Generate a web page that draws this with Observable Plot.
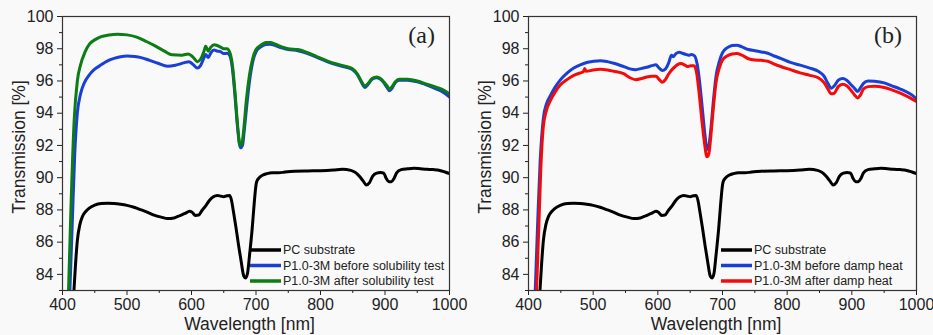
<!DOCTYPE html>
<html>
<head>
<meta charset="utf-8">
<script src="https://cdn.jsdelivr.net/npm/d3@7"></script>
<script src="https://cdn.jsdelivr.net/npm/@observablehq/plot@0.6"></script>
<style>
  html, body { margin: 0; padding: 0; background: #f9f9f9; }
  #wrap { display: flex; width: 933px; height: 335px; }
  svg { display: block; background: transparent; }
</style>
</head>
<body>
<div id="wrap"></div>
<script>
// ---------------- DATA ----------------
const xTicks = [400, 500, 600, 700, 800, 900, 1000];
const yTicks = [84, 86, 88, 90, 92, 94, 96, 98, 100];

// PC substrate (same in both panels): [wavelength nm, transmission %]
const pcSubstrate = [[417,82.5],[420,84.5],[423,86.1],[427,87.1],[431,87.6],[436,87.9],[441,88.1],[450,88.3],[460,88.4],[470,88.42],[480,88.4],[490,88.35],[500,88.28],[512,88.15],[522,88.0],[532,87.85],[542,87.68],[553,87.55],[563,87.46],[573,87.5],[582,87.65],[590,87.78],[597,87.92],[601,87.85],[606,87.66],[611,87.68],[616,87.95],[622,88.25],[628,88.6],[634,88.82],[640,88.9],[646,88.85],[650,88.82],[655,88.88],[659,88.9],[662,88.6],[665,87.9],[669,86.9],[673,85.8],[677,84.8],[681,83.9],[684,83.78],[687,84.1],[690,85.2],[694,86.8],[697,88.3],[699,89.2],[700,89.55],[701,89.75],[705,90.0],[710,90.15],[717,90.25],[725,90.3],[735,90.3],[745,90.35],[760,90.4],[780,90.42],[800,90.43],[820,90.47],[834,90.52],[847,90.45],[855,90.3],[860,90.1],[866,89.8],[871,89.55],[876,89.7],[881,90.1],[887,90.28],[893,90.32],[898,90.28],[902,89.95],[906,89.75],[910,89.75],[914,89.95],[918,90.3],[925,90.5],[935,90.55],[945,90.58],[955,90.55],[965,90.52],[975,90.5],[985,90.45],[993,90.35],[1000,90.25]];

// Panel (a)
const beforeSolubility = [[411,82.5],[415,87],[419,91.5],[423,94.0],[428,95.2],[434,95.9],[441,96.35],[449,96.7],[460,97.0],[470,97.25],[480,97.4],[490,97.5],[500,97.55],[512,97.52],[522,97.45],[535,97.28],[548,97.1],[563,96.92],[575,96.98],[588,97.12],[596,97.2],[603,97.0],[609,96.8],[614,96.95],[619,97.4],[622,97.65],[626,97.45],[630,97.75],[635,97.92],[640,97.85],[645,97.82],[650,97.7],[655,97.72],[659,97.6],[663,96.9],[667,95.3],[671,93.3],[674,92.2],[676,91.85],[679,92.0],[682,93.0],[686,94.6],[690,96.0],[695,97.2],[700,97.8],[707,98.1],[715,98.27],[722,98.28],[730,98.2],[740,98.05],[750,97.95],[765,97.88],[780,97.7],[795,97.45],[810,97.2],[825,97.0],[840,96.85],[850,96.7],[857,96.4],[863,95.95],[869,95.6],[874,95.8],[880,96.1],[887,96.2],[893,96.1],[898,95.9],[903,95.6],[907,95.4],[911,95.55],[916,95.9],[922,96.05],[935,96.05],[950,95.95],[965,95.75],[980,95.5],[990,95.3],[1000,95.0]];
const afterSolubility = [[409,82.5],[413,88],[418,93.5],[423,96.0],[428,97.0],[435,97.8],[442,98.3],[450,98.55],[460,98.75],[472,98.85],[485,98.9],[500,98.86],[515,98.72],[530,98.45],[545,98.15],[558,97.85],[570,97.62],[585,97.6],[595,97.68],[602,97.5],[609,97.2],[614,97.35],[619,97.8],[622,98.15],[626,97.85],[630,98.1],[635,98.25],[640,98.2],[645,98.1],[650,98.0],[655,98.0],[660,97.7],[664,96.8],[668,95.0],[672,93.0],[675,92.0],[678,92.1],[681,93.0],[685,94.8],[690,96.4],[695,97.4],[700,97.95],[707,98.2],[715,98.38],[722,98.38],[730,98.28],[740,98.12],[750,98.0],[765,97.95],[780,97.75],[795,97.5],[810,97.25],[825,97.05],[840,96.9],[850,96.75],[857,96.45],[863,96.0],[869,95.7],[874,95.85],[880,96.15],[887,96.25],[893,96.15],[898,95.95],[903,95.7],[907,95.5],[911,95.65],[916,95.95],[922,96.1],[935,96.1],[950,96.0],[965,95.8],[980,95.6],[990,95.45],[1000,95.2]];

// Panel (b)
const beforeDampHeat = [[410,82.5],[414,87],[418,91],[423,93.7],[428,94.6],[434,95.1],[441,95.6],[449,96.05],[460,96.5],[470,96.8],[480,97.0],[490,97.15],[500,97.22],[511,97.26],[522,97.2],[532,97.1],[547,96.9],[557,96.75],[566,96.7],[575,96.78],[583,96.85],[591,96.95],[597,97.0],[602,96.8],[607,96.65],[612,96.75],[617,97.15],[621,97.6],[624,97.5],[628,97.7],[633,97.78],[638,97.72],[643,97.65],[648,97.6],[652,97.65],[657,97.55],[661,97.0],[665,95.8],[669,94.2],[673,92.6],[676,91.75],[679,92.0],[682,93.0],[686,94.8],[690,96.3],[695,97.2],[700,97.75],[707,98.05],[715,98.2],[722,98.22],[730,98.12],[740,97.95],[750,97.88],[760,97.8],[770,97.72],[780,97.55],[790,97.4],[805,97.15],[820,96.98],[835,96.8],[848,96.6],[857,96.3],[863,95.85],[868,95.55],[873,95.7],[879,96.05],[886,96.15],[892,96.05],[898,95.8],[904,95.55],[909,95.35],[913,95.55],[918,95.85],[925,96.0],[935,95.98],[950,95.88],[962,95.7],[975,95.5],[990,95.2],[1000,94.9]];
const afterDampHeat = [[412,82.5],[416,87],[419,90.5],[423,93.2],[428,94.2],[434,94.8],[441,95.3],[449,95.75],[460,96.1],[470,96.35],[480,96.5],[485,96.58],[487,96.78],[489,96.6],[500,96.68],[511,96.72],[522,96.68],[532,96.6],[547,96.45],[557,96.2],[566,96.08],[575,96.15],[583,96.25],[591,96.3],[597,96.3],[602,96.1],[607,95.92],[612,96.1],[617,96.45],[623,96.75],[630,97.0],[636,97.08],[641,97.0],[646,96.9],[651,96.95],[656,96.95],[660,96.5],[664,95.2],[668,93.6],[672,92.2],[676,91.3],[679,91.5],[682,92.6],[686,94.4],[690,95.9],[695,96.8],[700,97.3],[707,97.55],[715,97.68],[722,97.7],[730,97.6],[740,97.38],[750,97.3],[760,97.28],[770,97.22],[780,97.05],[790,96.9],[805,96.7],[820,96.5],[835,96.35],[848,96.2],[857,95.9],[863,95.5],[868,95.2],[873,95.25],[879,95.65],[886,95.8],[892,95.7],[898,95.45],[904,95.15],[909,94.95],[913,95.1],[918,95.5],[925,95.65],[935,95.68],[950,95.6],[962,95.45],[975,95.25],[990,94.95],[1000,94.72]];

const seriesA = ["PC substrate", "P1.0-3M before solubility test", "P1.0-3M after solubility test"];
const seriesB = ["PC substrate", "P1.0-3M before damp heat", "P1.0-3M after damp heat"];
const colorsA = ["#000000", "#1a3fd6", "#0b7d12"];
const colorsB = ["#000000", "#1a3fd6", "#f50a0a"];

// ---------------- DRAW ----------------
const FONT = "'Liberation Sans', Arial, sans-serif";

function panel({width, data, names, colors, tag, legendLeft}) {
  const mL = 62, mR = 17, mT = 16, mB = 45;
  const rows = [];
  data.forEach((arr, i) => arr.forEach(([w, t]) => rows.push({w, t, s: names[i]})));
  const svg = Plot.plot({
    width, height: 335,
    marginLeft: mL, marginRight: mR, marginTop: mT, marginBottom: mB,
    style: {fontFamily: FONT, fontSize: "16px", color: "#222", background: "transparent", overflow: "visible"},
    x: {domain: [400, 1000]},
    y: {domain: [83, 100]},
    marks: [
      ...names.map((n, i) => Plot.line(rows.filter(d => d.s === n), {x: "w", y: "t", stroke: colors[i], strokeWidth: 3, curve: "monotone-x", clip: true})),
      Plot.axisX({ticks: xTicks, tickSize: 5, tickPadding: 3, tickFormat: d => String(d), label: null, fontSize: 16}),
      Plot.axisX({ticks: d3.range(450, 1000, 100), tickSize: 3, text: null, label: null}),
      Plot.axisY({ticks: yTicks, tickSize: 5, tickPadding: 4, tickFormat: d => String(d), label: null, fontSize: 16}),
      Plot.axisY({ticks: d3.range(83, 100, 2), tickSize: 3, text: null, label: null}),
      Plot.frame({stroke: "#333", strokeWidth: 1.2})
    ]
  });
  const s = d3.select(svg);
  const fx0 = mL, fx1 = width - mR, fy0 = mT, fy1 = 335 - mB;
  // axis titles
  s.append("text").attr("transform", `translate(${fx0 - 37},${(fy0 + fy1) / 2 - 6}) rotate(-90)`)
    .attr("text-anchor", "middle").attr("font-size", 17.5).attr("font-family", FONT).attr("fill", "#222")
    .text("Transmission [%]");
  s.append("text").attr("x", (fx0 + fx1) / 2 - 6).attr("y", 330)
    .attr("text-anchor", "middle").attr("font-size", 17.5).attr("font-family", FONT).attr("fill", "#222")
    .text("Wavelength [nm]");
  // panel tag
  s.append("text").attr("x", fx1 - 14).attr("y", 43).attr("text-anchor", "end")
    .attr("font-size", 24).attr("font-family", "'Liberation Serif', 'Times New Roman', serif").attr("fill", "#222")
    .text(tag);
  // legend
  const lg = s.append("g").attr("transform", `translate(${fx0 + legendLeft},250)`);
  names.forEach((n, i) => {
    const g = lg.append("g").attr("transform", `translate(0,${i * 15.5})`);
    g.append("line").attr("x1", 0).attr("x2", 31).attr("stroke", colors[i]).attr("stroke-width", 3.5);
    g.append("text").attr("x", 33).attr("dy", "0.35em").attr("text-anchor", "start")
      .attr("font-size", 12.5).attr("font-family", FONT).attr("fill", "#222").text(n);
  });
  return svg;
}

const wrap = document.getElementById("wrap");
wrap.appendChild(panel({width: 466, data: [pcSubstrate, beforeSolubility, afterSolubility], names: seriesA, colors: colorsA, tag: "(a)", legendLeft: 188}));
wrap.appendChild(panel({width: 467, data: [pcSubstrate, beforeDampHeat, afterDampHeat], names: seriesB, colors: colorsB, tag: "(b)", legendLeft: 193}));
</script>
</body>
</html>
